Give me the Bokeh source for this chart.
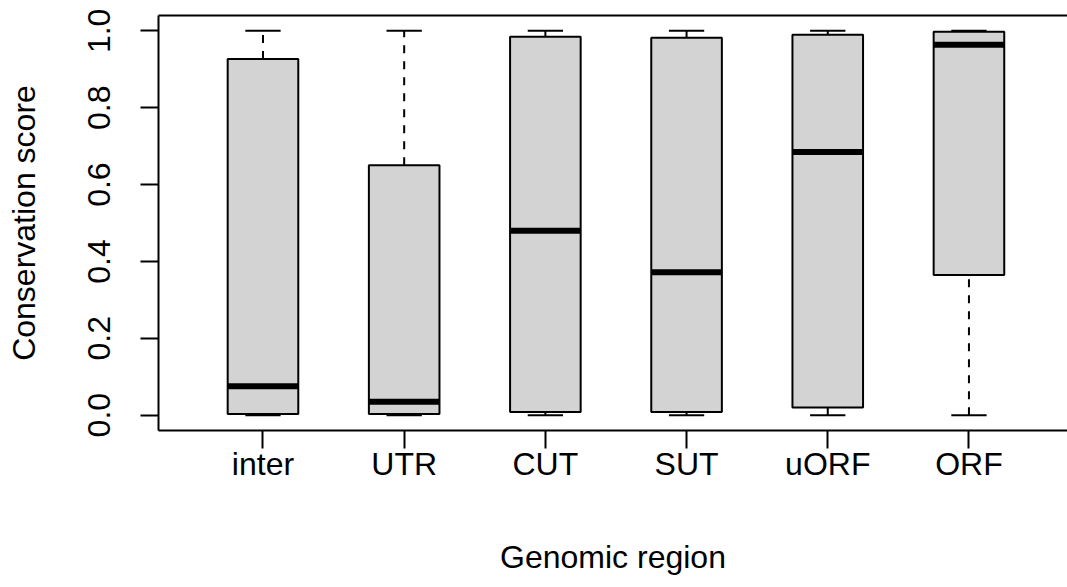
from bokeh.plotting import figure
from bokeh.models import ColumnDataSource, FixedTicker, LinearAxis, Range1d, PrintfTickFormatter
from bokeh.embed import file_html
from bokeh.resources import INLINE

categories = ["inter", "UTR", "CUT", "SUT", "uORF", "ORF"]
lower = [0.0, 0.0, 0.0, 0.0, 0.0, 0.0]
q1 = [0.003, 0.003, 0.008, 0.008, 0.020, 0.365]
median = [0.075, 0.035, 0.480, 0.372, 0.685, 0.964]
q3 = [0.927, 0.650, 0.985, 0.982, 0.990, 0.998]
upper = [1.0, 1.0, 1.0, 1.0, 1.0, 1.0]
y_ticks = [0.0, 0.2, 0.4, 0.6, 0.8, 1.0]

pos = list(range(1, len(categories) + 1))
box_w = 0.5
staple_w = 0.25

src = ColumnDataSource(dict(
    x=pos,
    left=[p - box_w / 2 for p in pos],
    right=[p + box_w / 2 for p in pos],
    sl=[p - staple_w / 2 for p in pos],
    sr=[p + staple_w / 2 for p in pos],
    lower=lower, q1=q1, median=median, q3=q3, upper=upper,
))

FONT = "Liberation Sans"
FS = "32px"

p = figure(width=1067, height=587, output_backend="svg", toolbar_location=None,
           x_range=Range1d(0.26, 6.698), y_range=Range1d(-0.04, 1.04),
           min_border_left=158, min_border_right=0, min_border_top=15,
           min_border_bottom=157, x_axis_location=None, y_axis_location=None)
p.outline_line_color = None
p.xgrid.visible = False
p.ygrid.visible = False
p.background_fill_color = "white"
p.border_fill_color = "white"

# whiskers (dashed)
p.segment(x0="x", y0="q3", x1="x", y1="upper", source=src, line_color="black",
          line_width=2, line_dash="8 8")
p.segment(x0="x", y0="lower", x1="x", y1="q1", source=src, line_color="black",
          line_width=2, line_dash="8 8")
# staples
p.segment(x0="sl", y0="upper", x1="sr", y1="upper", source=src, line_color="black", line_width=2)
p.segment(x0="sl", y0="lower", x1="sr", y1="lower", source=src, line_color="black", line_width=2)
# boxes
p.quad(left="left", right="right", bottom="q1", top="q3", source=src,
       fill_color="#D3D3D3", line_color="black", line_width=2)
# medians
p.segment(x0="left", y0="median", x1="right", y1="median", source=src,
          line_color="black", line_width=6)


def style(ax):
    ax.minor_tick_line_color = None
    ax.major_tick_line_color = "black"
    ax.axis_line_color = "black"
    ax.major_tick_out = 18
    ax.major_tick_in = 0
    ax.major_tick_line_width = 2
    ax.axis_line_width = 2
    ax.major_label_text_font = FONT
    ax.major_label_text_font_size = FS
    ax.major_label_text_color = "black"
    ax.axis_label_text_font = FONT
    ax.axis_label_text_font_size = FS
    ax.axis_label_text_font_style = "normal"
    ax.axis_label_text_color = "black"


xaxis = LinearAxis(ticker=FixedTicker(ticks=pos),
                   major_label_overrides={p_: c for p_, c in zip(pos, categories)},
                   axis_label="Genomic region")
style(xaxis)
xaxis.major_label_standoff = -3
xaxis.axis_label_standoff = 54
p.add_layout(xaxis, "below")

yaxis = LinearAxis(ticker=FixedTicker(ticks=y_ticks),
                   formatter=PrintfTickFormatter(format="%.1f"),
                   axis_label="Conservation score")
style(yaxis)
yaxis.major_label_orientation = "vertical"
yaxis.major_label_standoff = 30
yaxis.axis_label_standoff = 44
p.add_layout(yaxis, "left")

top = LinearAxis(ticker=FixedTicker(ticks=[]))
top.major_tick_out = 0
top.major_tick_in = 0
top.minor_tick_line_color = None
top.major_label_text_font_size = "0px"
top.major_label_standoff = 0
top.axis_line_width = 2
top.axis_line_color = "black"
p.add_layout(top, "above")

open("out.html", "w").write(file_html(p, INLINE))
